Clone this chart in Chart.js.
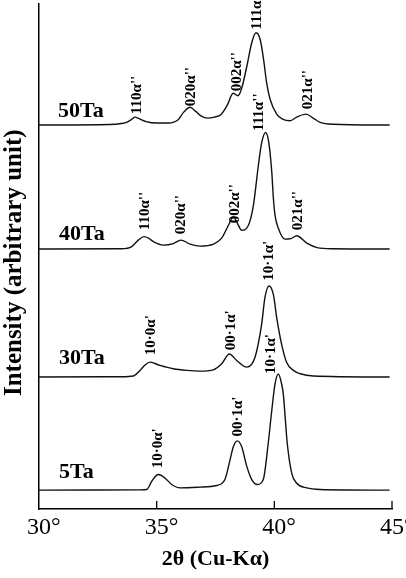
<!DOCTYPE html>
<html><head><meta charset="utf-8">
<script src="https://cdn.jsdelivr.net/npm/chart.js@4"></script>
<style>html,body{margin:0;padding:0;background:#fff;overflow:hidden}#wrap{width:406px;height:578px}</style>
</head><body><div id="wrap"><canvas id="c" width="406" height="578"></canvas></div>
<script>
// ---- data ----
const xTicks = [30, 35, 40, 45];
const tickLabels = ['30°', '35°', '40°', '45°'];
const samples = ['50Ta', '40Ta', '30Ta', '5Ta'];
const offsets = [387, 262, 133, 19];           // stacking offsets (arbitrary units)

const theta50 = [30,33.0,33.5,33.75,33.95,34.08,34.25,34.55,35.0,35.5,35.9,36.15,36.42,36.65,36.9,37.15,37.45,37.75,38.0,38.25,38.45,38.6,38.83,39.04,39.22,39.4,39.55,39.67,39.82,40.1,40.35,40.67,40.95,41.35,41.65,41.95,42.5,44.9];
const int50   = [0,0.5,1.5,3,6,8,6.5,3.5,2,2,5,13,18,14,9,7,8,11,20,32,29.5,36,59,83,93,86,65,43,26,11,6,4.3,8,11,7,2.7,0.8,0];

const theta40 = [30,33.5,33.94,34.22,34.46,34.65,34.86,35.28,35.71,36.03,36.42,36.84,37.41,37.76,38.05,38.26,38.43,38.61,38.9,39.11,39.32,39.46,39.63,39.76,39.89,39.96,40.03,40.17,40.45,40.7,40.95,41.38,41.82,42.5,44.9];
const int40   = [0,0.3,2.5,9,12.5,11,7.5,4,5.5,9,5,3,5,11,24,32.4,26,19,24,44,84,107,117.5,108,78,51,34,21,10,10.5,13.4,6,1.5,0.3,0];

const theta30 = [30,33.5,34.0,34.29,34.5,34.72,35.14,35.71,36.28,36.84,37.41,37.76,38.09,38.4,38.83,39.18,39.46,39.6,39.77,39.96,40.1,40.31,40.52,40.81,41.1,41.66,44.9];
const int30   = [0,0.3,1,6.7,12,15,11.7,8.3,6.7,6,7.3,13.3,23.3,16.7,10,20,53,80,91.7,83,60,33,15,6.7,3.3,1,0];

const theta5  = [30,34.3,34.58,34.79,35.07,35.35,35.64,35.99,36.84,37.55,37.9,38.12,38.26,38.43,38.61,38.83,39.04,39.28,39.53,39.74,39.89,40.03,40.17,40.31,40.38,40.55,40.74,40.95,41.38,41.95,44.9];
const int5    = [0,0.3,0.7,9,15.7,12.3,5.7,2.3,3,4.7,10.7,30.7,44,49.7,44,24,10.7,5.7,10.7,47,80,107,117,107,97,47,17,7,2.3,0.7,0];

// sample name anchors [2θ, y]
const sampleLabelX = [30.81, 30.85, 30.85, 30.85];
const sampleLabelY = [395, 271.3, 146.3, 31.3];

// peak labels: text, 2θ, y (bottom of rotated text)
const peakText  = ["110α''","020α''","002α''","111α''","021α''",
                   "110α''","020α''","002α''","111α''","021α''",
                   "10·0α'","00·1α'","10·1α'",
                   "10·0α'","00·1α'","10·1α'"];
const peakTheta = [34.16,36.45,38.41,39.26,41.43,
                   34.53,36.06,38.33,39.35,40.99,
                   34.76,38.16,39.77,
                   35.06,38.46,39.88];
const peakY     = [398,406,421,483,403,
                   281,277,288,381,281,
                   155,160,230,
                   41,73,136];

const thetas = [theta50, theta40, theta30, theta5];
const ints = [int50, int40, int30, int5];

const SERIF = "'Liberation Serif','Times New Roman',serif";

const datasets = samples.map((name, k) => ({
  label: name,
  data: thetas[k].map((t, i) => ({x: t, y: offsets[k] + ints[k][i]})),
  borderColor: '#111',
  borderWidth: 1.4,
  pointRadius: 0,
  fill: false,
  cubicInterpolationMode: 'monotone',
  clip: false
}));

const overlay = {
  id: 'overlay',
  afterDraw(chart) {
    const {ctx, scales: {x, y}, chartArea} = chart;
    ctx.save();
    // inner tick marks
    ctx.strokeStyle = '#000';
    ctx.lineWidth = 1.3;
    xTicks.slice(1).forEach(v => {
      const px = x.getPixelForValue(v);
      ctx.beginPath();
      ctx.moveTo(px, chartArea.bottom);
      ctx.lineTo(px, chartArea.bottom - 8);
      ctx.stroke();
    });
    // sample names
    ctx.fillStyle = '#000';
    ctx.font = "bold 22px " + SERIF;
    ctx.textAlign = 'left';
    ctx.textBaseline = 'alphabetic';
    samples.forEach((s, k) => {
      ctx.fillText(s, x.getPixelForValue(sampleLabelX[k]), y.getPixelForValue(sampleLabelY[k]));
    });
    // peak labels (rotated)
    ctx.font = "bold 15px " + SERIF;
    ctx.textBaseline = 'middle';
    peakText.forEach((t, i) => {
      ctx.save();
      ctx.translate(x.getPixelForValue(peakTheta[i]), y.getPixelForValue(peakY[i]));
      ctx.rotate(-Math.PI / 2);
      ctx.fillText(t, 0, 0);
      ctx.restore();
    });
    ctx.restore();
  }
};

new Chart(document.getElementById('c'), {
  type: 'line',
  data: {datasets},
  options: {
    responsive: false,
    animation: false,
    events: [],
    layout: {padding: {top: 4, right: 14, left: 0, bottom: 0}},
    plugins: {legend: {display: false}, tooltip: {enabled: false}},
    scales: {
      x: {
        type: 'linear', position: 'bottom', min: 30, max: 45,
        ticks: {
          stepSize: 5, autoSkip: false, maxRotation: 0, minRotation: 0,
          align: 'start', labelOffset: -12, padding: 5,
          color: '#000',
          font: {family: SERIF, size: 24, lineHeight: 1.15},
          callback: v => tickLabels[xTicks.indexOf(v)]
        },
        grid: {display: false, drawTicks: false},
        border: {display: true, color: '#000', width: 1.5},
        title: {
          display: true, text: '2θ (Cu-Kα)', color: '#000',
          font: {family: SERIF, size: 22, weight: 'bold', lineHeight: 1.2},
          padding: {top: 0, bottom: 5}
        },
        afterFit(s) { s.paddingLeft = 0; s.paddingRight = 0; }
      },
      y: {
        type: 'linear', position: 'left', min: 0, max: 509,
        ticks: {display: false},
        grid: {display: false, drawTicks: false},
        border: {display: true, color: '#000', width: 1.5},
        title: {
          display: true, text: 'Intensity (arbitrary unit)\u2002', color: '#000',
          font: {family: SERIF, size: 25, weight: 'bold', lineHeight: 1.2},
          padding: {top: 0, bottom: 9}
        }
      }
    }
  },
  plugins: [overlay]
});
</script>
</body></html>
